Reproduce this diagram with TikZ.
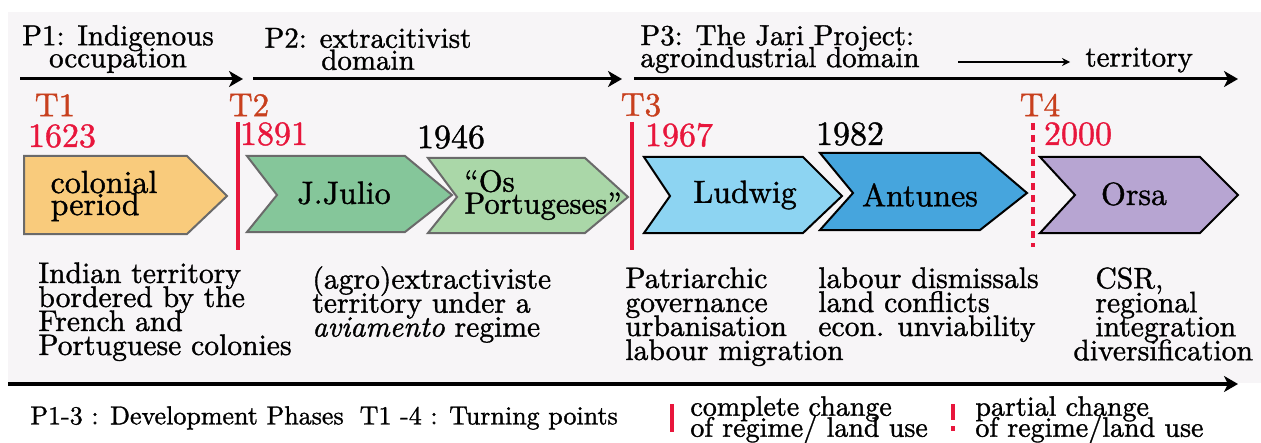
\documentclass[tikz,border=0pt]{standalone}
\usepackage{fontspec}
\setmainfont{lmroman10-regular.otf}[ItalicFont=lmroman10-italic.otf,FakeBold=1.2]
\usetikzlibrary{arrows.meta,positioning}

\definecolor{bggrey}{HTML}{F7F5F7}
\definecolor{turnred}{HTML}{C8401E}
\definecolor{yearred}{HTML}{E8163C}
\definecolor{edgegrey}{HTML}{6A6A6A}
\definecolor{colonialfill}{HTML}{F9CB7C}
\definecolor{juliofill}{HTML}{85C69A}
\definecolor{portfill}{HTML}{AAD7A8}
\definecolor{ludwigfill}{HTML}{8DD4F2}
\definecolor{antunesfill}{HTML}{46A5DD}
\definecolor{orsafill}{HTML}{B7A5D2}

\begin{document}
\setlength{\lineskiplimit}{-20pt}
\begin{tikzpicture}[x=0.5pt,y=-0.5pt,
    every node/.style={inner sep=0pt},
    phase/.style={-{Stealth[length=7pt,width=8pt,inset=2pt]},line width=1.5pt},
    head/.style={font=\fontsize{14.5}{11}\selectfont,align=center},
    turn/.style={text=turnred,font=\fontsize{16.5}{16}\selectfont},
    year/.style={font=\fontsize{17}{17}\selectfont},
    chev/.style={line width=1pt,line join=miter},
    lbl/.style={font=\fontsize{16}{11}\selectfont,align=left},
    note/.style={font=\fontsize{14.8}{12}\selectfont,align=left,anchor=north west},
    cut/.style={yearred,line width=2pt},
    legend/.style={font=\fontsize{14}{10.5}\selectfont,align=left,anchor=west}]

  % page and background
  \useasboundingbox (0,0) rectangle (1261,443);
  \fill[bggrey] (8,12) rectangle (1261,383);

  % phases
  \node[head] (p1) at (118,49) {P1: Indigenous\\occupation};
  \node[head] (p2) at (368,49) {P2: extracitivist\\domain};
  \node[head,align=left,anchor=west] (p3) at (640,49) {P3: The Jari Project:\\agroindustrial domain};
  \node[head,anchor=west] (terr) at (1085,60) {territory};
  \coordinate (a1) at (20,79);   \coordinate (b1) at (243,79);
  \coordinate (a2) at (253,79);  \coordinate (b2) at (622,79);
  \coordinate (a3) at (634,79);  \coordinate (b3) at (1238,79);
  \coordinate (a4) at (958,62);  \coordinate (b4) at (1070,62);
  \draw[phase] (a1) -- (b1);
  \draw[phase] (a2) -- (b2);
  \draw[phase] (a3) -- (b3);
  \draw[-{Stealth[length=4pt,width=4pt]},line width=0.6pt] (a4) -- (b4);

  % turning points and years
  \node[turn] (t1) at (55,105) {T1};
  \node[turn] (t2) at (249,105) {T2};
  \node[turn] (t3) at (641,105) {T3};
  \node[turn] (t4) at (1040,105) {T4};
  \node[year,text=yearred] (y1623) at (62,136) {1623};
  \node[year,text=yearred] (y1891) at (274,134) {1891};
  \node[year] (y1946) at (451,137) {1946};
  \node[year,text=yearred] (y1967) at (679,135) {1967};
  \node[year] (y1982) at (850,134) {1982};
  \node[year,text=yearred] (y2000) at (1078,134) {2000};
  \draw[cut] (238,122) -- (238,250);
  \draw[cut] (632,122) -- (632,250);
  \draw[cut,dash pattern=on 3.5pt off 2.5pt] (1033,123) -- (1033,247);

  % regimes
  \filldraw[chev,draw=edgegrey,fill=colonialfill] (24,156) -- (187,156) -- (227,196) -- (187,234) -- (24,234) -- cycle;
  \filldraw[chev,draw=edgegrey,fill=juliofill] (247,156) -- (405,156) -- (452,195) -- (405,232) -- (247,232) -- (277,195) -- cycle;
  \filldraw[chev,draw=edgegrey,fill=portfill] (428,158) -- (585,158) -- (628,197) -- (585,233) -- (428,233) -- (457,197) -- cycle;
  \filldraw[chev,fill=ludwigfill] (644,157) -- (803,157) -- (842,196) -- (803,233) -- (644,233) -- (670,196) -- cycle;
  \filldraw[chev,fill=antunesfill] (820,153) -- (980,153) -- (1027,193) -- (980,230) -- (820,230) -- (853,193) -- cycle;
  \filldraw[chev,fill=orsafill] (1040,157) -- (1200,157) -- (1238,195) -- (1200,233) -- (1040,233) -- (1075,195) -- cycle;
  \node[lbl] (colonial) at (104,196) {colonial\\period};
  \node[lbl] (julio) at (344,193) {J.Julio};
  \node[lbl,anchor=west,font=\fontsize{15.3}{11}\selectfont] (port) at (464,195) {``Os\\Portugeses''};
  \node[lbl] (ludwig) at (745,195) {Ludwig};
  \node[lbl] (antunes) at (920,195) {Antunes};
  \node[lbl] (orsa) at (1134,194) {Orsa};

  % outcomes
  \node[note] (indian) at (38,262) {Indian territory\\bordered by the\\French and\\Portuguese colonies};
  \node[note] (agro) at (312,266) {(agro)extractiviste\\territory under a\\\textit{aviamento} regime};
  \node[note] (patri) at (625,267) {Patriarchic\\governance\\urbanisation\\labour migration};
  \node[note] (labour) at (818,267) {labour dismissals\\land conflicts\\econ. unviability};
  \node[note] (csr) at (1095,267) {CSR,\\regional\\integration\\\hspace*{-11pt}diversification};

  % time axis
  \coordinate (a5) at (8,384);  \coordinate (b5) at (1238,384);
  \draw[phase,line width=2pt] (a5) -- (b5);

  % legend
  \node[legend,font=\fontsize{13}{10.5}\selectfont] (keyp) at (30,418) {P1-3 : Development Phases\hspace{8pt}T1 -4 : Turning points};
  \draw[cut] (672,404) -- (672,432);
  \node[legend] (keyfull) at (690,420) {complete change\\of regime/ land use};
  \draw[cut,dash pattern=on 8pt off 3pt on 2.5pt off 10pt] (953,404) -- (953,432);
  \node[legend] (keypart) at (975,420) {partial change\\of regime/land use};
\end{tikzpicture}
\end{document}
